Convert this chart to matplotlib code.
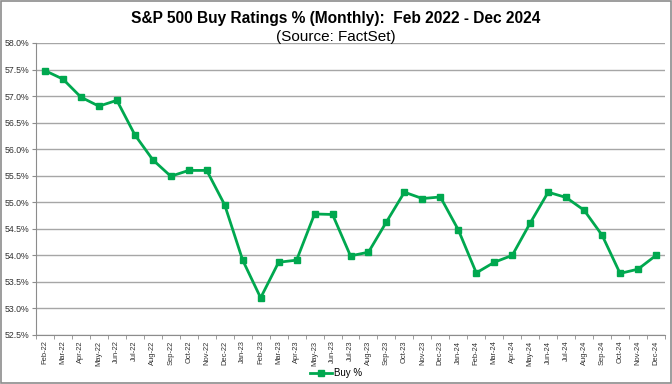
import matplotlib
matplotlib.use("Agg")
import matplotlib.pyplot as plt
from matplotlib.patches import Rectangle
from matplotlib.ticker import FixedLocator, FuncFormatter

plt.rcParams['font.family'] = ['Liberation Sans', 'DejaVu Sans']

months = ["Feb-22", "Mar-22", "Apr-22", "May-22", "Jun-22", "Jul-22", "Aug-22", "Sep-22",
          "Oct-22", "Nov-22", "Dec-22", "Jan-23", "Feb-23", "Mar-23", "Apr-23", "May-23",
          "Jun-23", "Jul-23", "Aug-23", "Sep-23", "Oct-23", "Nov-23", "Dec-23", "Jan-24",
          "Feb-24", "Mar-24", "Apr-24", "May-24", "Jun-24", "Jul-24", "Aug-24", "Sep-24",
          "Oct-24", "Nov-24", "Dec-24"]
buy_pct = [57.48, 57.32, 56.98, 56.81, 56.92, 56.27, 55.80, 55.49,
           55.60, 55.60, 54.95, 53.91, 53.20, 53.87, 53.91, 54.78,
           54.77, 53.99, 54.06, 54.63, 55.19, 55.07, 55.10, 54.48,
           53.67, 53.87, 54.00, 54.61, 55.19, 55.09, 54.85, 54.38,
           53.66, 53.74, 54.00]
y_ticks = [52.5, 53.0, 53.5, 54.0, 54.5, 55.0, 55.5, 56.0, 56.5, 57.0, 57.5, 58.0]

fig = plt.figure(figsize=(6.72, 3.84), dpi=100)
fig.patches.append(Rectangle((0.002, 0.003), 0.996, 0.994, transform=fig.transFigure,
                             fill=False, edgecolor='#8c8c8c', linewidth=1.2))
ax = fig.add_axes([36/672, 1-335/384, (665-36)/672, (335-43)/384])

x = list(range(len(months)))
ax.plot(x, buy_pct, color='#00A84F', linewidth=2, marker='s', markersize=4,
        label='Buy %', zorder=3)

ax.set_xlim(-0.5, len(months) - 0.5)
ax.set_ylim(52.5, 58.0)
ax.yaxis.set_major_locator(FixedLocator(y_ticks))
ax.yaxis.set_major_formatter(FuncFormatter(lambda v, p: f"{v:.1f}%"))
ax.grid(axis='y', color='#a6a6a6', linewidth=1)
ax.set_axisbelow(True)

ax.set_xticks(x)
ax.set_xticklabels(months, rotation=90, fontsize=5.4, color='#303030')
ax.tick_params(axis='x', length=0, pad=4)
ax.set_xticks([i - 0.5 for i in range(len(months) + 1)], minor=True)
ax.tick_params(axis='x', which='minor', length=3, color='#8c8c8c')
ax.tick_params(axis='y', labelsize=6.3, labelcolor='#303030', length=3, color='#8c8c8c', pad=2)

for s in ['top', 'right']:
    ax.spines[s].set_visible(False)
ax.spines['left'].set_color('#8c8c8c')
ax.spines['bottom'].set_color('#8c8c8c')

fig.text(0.5, 1 - 18/384, "S&P 500 Buy Ratings % (Monthly):  Feb 2022 - Dec 2024",
         ha='center', va='center', fontsize=11.2, fontweight='bold')
fig.text(0.5, 1 - 36.5/384, "(Source: FactSet)", ha='center', va='center', fontsize=11)

fig.legend(loc='center', bbox_to_anchor=(0.5, 11/384), frameon=False, fontsize=7,
           handlelength=2.2, handletextpad=0.2)

fig.savefig("out.png", dpi=100)
